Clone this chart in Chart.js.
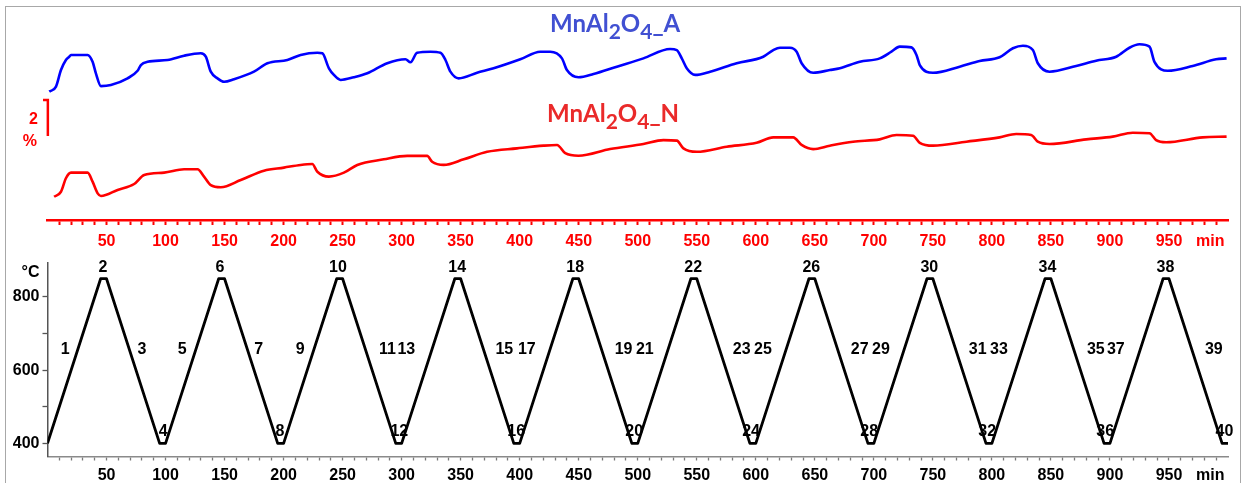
<!DOCTYPE html>
<html>
<head>
<meta charset="utf-8">
<script src="https://cdn.jsdelivr.net/npm/chart.js@4"></script>
<style>
  html, body { margin: 0; padding: 0; background: #fff; overflow: hidden; }
  #frame { position: absolute; left: 5px; top: 6px; width: 1234px; height: 540px; border: 1px solid #a8a8a8; }
  canvas { position: absolute; left: 0; }
  #tg { top: 0; }
  #temp { top: 250px; }
</style>
</head>
<body>
<div id="frame"></div>
<canvas id="tg" width="1243" height="258"></canvas>
<canvas id="temp" width="1243" height="233"></canvas>
<script>
// TG curves (time in min, mass change in % with arbitrary offset)
const blueTime = [1.5, 7.2, 11.4, 15.6, 18.4, 19.9, 34.0, 38.2, 41.0, 45.3, 53.7, 67.8, 76.3, 79.1, 84.8, 101.7, 115.7, 129.8, 134.1, 138.3, 144.0, 149.6, 158.0, 174.9, 186.3, 203.2, 214.4, 228.6, 232.8, 238.4, 242.6, 248.3, 259.5, 270.9, 287.8, 303.2, 307.5, 313.1, 324.4, 332.9, 337.1, 341.3, 348.3, 363.9, 377.9, 400.5, 417.4, 425.9, 435.8, 440.0, 449.8, 462.5, 482.3, 504.8, 527.4, 533.1, 537.3, 541.5, 548.6, 561.3, 583.8, 606.3, 614.8, 620.5, 628.9, 634.6, 638.8, 648.6, 662.7, 671.2, 688.1, 705.0, 714.9, 721.9, 731.8, 736.1, 738.9, 750.1, 772.7, 789.6, 806.5, 817.8, 826.3, 834.7, 838.9, 848.8, 871.4, 888.3, 905.3, 916.5, 925.0, 933.5, 937.7, 948.9, 970.1, 989.9, 998.8];
const blueMass = [7.13, 7.41, 8.33, 8.89, 9.07, 9.17, 9.17, 8.79, 8.15, 7.44, 7.50, 7.87, 8.29, 8.61, 8.79, 8.89, 9.13, 9.26, 9.07, 8.24, 7.87, 7.68, 7.82, 8.24, 8.71, 8.89, 9.17, 9.29, 9.26, 8.43, 8.06, 7.78, 7.93, 8.15, 8.71, 8.93, 8.76, 9.29, 9.35, 9.29, 8.89, 8.24, 7.87, 8.18, 8.43, 8.93, 9.35, 9.35, 8.98, 8.33, 7.93, 8.11, 8.52, 8.98, 9.50, 9.44, 8.98, 8.43, 8.06, 8.24, 8.71, 9.07, 9.44, 9.57, 9.57, 9.35, 8.71, 8.18, 8.33, 8.43, 8.79, 8.98, 9.35, 9.63, 9.59, 9.17, 8.61, 8.18, 8.52, 8.83, 9.04, 9.54, 9.68, 9.44, 8.71, 8.24, 8.56, 8.85, 9.07, 9.57, 9.76, 9.63, 8.79, 8.29, 8.56, 8.93, 8.98];

const redTime = [5.6, 11.4, 15.6, 19.9, 34.0, 38.2, 42.5, 45.3, 59.4, 73.4, 81.9, 98.8, 115.7, 127.1, 132.6, 138.3, 146.8, 163.7, 183.4, 200.3, 214.4, 224.3, 228.6, 238.4, 251.1, 262.4, 284.9, 304.7, 321.6, 325.8, 335.6, 352.6, 372.4, 397.7, 420.2, 431.6, 438.6, 449.8, 476.6, 504.8, 521.7, 533.1, 538.7, 550.0, 575.4, 600.7, 614.8, 631.7, 638.8, 648.6, 662.7, 682.4, 705.0, 719.2, 733.2, 738.9, 750.1, 778.4, 806.5, 820.6, 833.3, 838.9, 848.8, 879.9, 902.4, 919.3, 933.5, 939.1, 947.6, 978.5, 998.8];
const redMass = [1.29, 1.57, 2.32, 2.63, 2.63, 2.13, 1.48, 1.33, 1.67, 2.00, 2.50, 2.63, 2.82, 2.82, 2.41, 1.94, 1.82, 2.22, 2.74, 2.91, 3.06, 3.11, 2.68, 2.41, 2.63, 3.06, 3.37, 3.56, 3.56, 3.24, 3.06, 3.37, 3.79, 3.98, 4.13, 4.17, 3.71, 3.57, 3.94, 4.22, 4.44, 4.41, 3.98, 3.79, 4.07, 4.29, 4.59, 4.59, 4.17, 3.94, 4.13, 4.35, 4.48, 4.72, 4.68, 4.29, 4.13, 4.35, 4.59, 4.78, 4.72, 4.35, 4.22, 4.48, 4.63, 4.85, 4.82, 4.44, 4.32, 4.59, 4.63];

// 2 % scale bar
const scaleBarTime = [-3.8, 0.3, 0.3];
const scaleBarMass = [6.67, 6.67, 4.67];

// temperature programme
const tempTime = [0, 45, 50, 95, 100, 145, 150, 195, 200, 245, 250, 295, 300, 345, 350, 395, 400, 445, 450, 495, 500, 545, 550, 595, 600, 645, 650, 695, 700, 745, 750, 795, 800, 845, 850, 895, 900, 945, 950, 995, 1000];
const tempValue = [400, 850, 850, 400, 400, 850, 850, 400, 400, 850, 850, 400, 400, 850, 850, 400, 400, 850, 850, 400, 400, 850, 850, 400, 400, 850, 850, 400, 400, 850, 850, 400, 400, 850, 850, 400, 400, 850, 850, 400, 400];

// segment numbers 1..40 and where they sit
const stepTime = [15, 47, 80, 98, 114, 146, 179, 197, 214, 246, 288, 298, 304, 347, 387, 397, 406, 447, 488, 497, 506, 547, 588, 596, 606, 647, 688, 696, 706, 747, 788, 796, 806, 847, 888, 896, 905, 947, 988, 997];
const stepTemp = [656, 879, 656, 431, 656, 879, 656, 431, 656, 879, 656, 431, 656, 879, 656, 431, 656, 879, 656, 431, 656, 879, 656, 431, 656, 879, 656, 431, 656, 879, 656, 431, 656, 879, 656, 431, 656, 879, 656, 431];

const xLabels = [50, 100, 150, 200, 250, 300, 350, 400, 450, 500, 550, 600, 650, 700, 750, 800, 850, 900, 950];
const xUnitAt = 985;
const yLabels = [400, 600, 800];
const yTicks = [400, 500, 600, 700, 800];
const yUnitAt = 867;

const axisFont = { family: "'Liberation Sans', Arial, sans-serif", weight: 'bold', size: 16 };

const toPts = (xs, ys) => xs.map((x, i) => ({ x: x, y: ys[i] }));

const addUnitTick = (scale) => {
    scale.ticks.push({ value: xUnitAt });
    scale.ticks.sort((a, b) => a.value - b.value);
};
const xTickLabel = (v) => v === xUnitAt ? 'min' : (xLabels.includes(v) ? String(v) : '');
const xTickColor = (color) => (ctx) => {
    const v = ctx.tick ? ctx.tick.value : null;
    return (v === 0 || v === 1000 || v === xUnitAt) ? 'rgba(0,0,0,0)' : color;
};

// text on the TG panel: sample names and the 2 % label
const tgText = {
    id: 'tgText',
    afterDatasetsDraw(chart) {
        const c = chart.ctx;
        const xs = chart.scales.x, ys = chart.scales.y;
        const formula = (x, y, tail, color) => {
            const parts = [['MnAl', 0], ['2', 1], ['O', 0], ['4', 1], [tail, 0]];
            c.save();
            c.fillStyle = color;
            c.textAlign = 'left';
            c.textBaseline = 'alphabetic';
            parts.forEach(p => {
                c.font = p[1] ? "bold 21px Lato, 'Open Sans', sans-serif" : "bold 24px Lato, 'Open Sans', sans-serif";
                c.fillText(p[0], x, y + (p[1] ? 7 : 0));
                x += c.measureText(p[0]).width;
            });
            c.restore();
        };
        formula(550, 32, '_A', '#4150d2');
        formula(547, 122, '_N', '#ea2a2a');

        c.save();
        c.fillStyle = '#ff0000';
        c.font = "bold 16px 'Liberation Sans', Arial, sans-serif";
        c.textAlign = 'center';
        c.textBaseline = 'middle';
        c.fillText('2', xs.getPixelForValue(-12), ys.getPixelForValue(5.56));
        c.fillText('%', xs.getPixelForValue(-15), ys.getPixelForValue(4.37));
        c.restore();
    }
};

const stepText = {
    id: 'stepText',
    afterDatasetsDraw(chart) {
        const c = chart.ctx;
        const xs = chart.scales.x, ys = chart.scales.y;
        c.save();
        c.fillStyle = '#000';
        c.font = "bold 16px 'Liberation Sans', Arial, sans-serif";
        c.textAlign = 'center';
        c.textBaseline = 'middle';
        stepTime.forEach((t, i) => {
            c.fillText(String(i + 1), xs.getPixelForValue(t), ys.getPixelForValue(stepTemp[i]));
        });
        c.restore();
    }
};

new Chart(document.getElementById('tg'), {
    type: 'line',
    data: {
        datasets: [
            { data: toPts(blueTime, blueMass), borderColor: '#0000ff', borderWidth: 2.6, pointRadius: 0, cubicInterpolationMode: 'monotone' },
            { data: toPts(redTime, redMass), borderColor: '#ff0000', borderWidth: 2.6, pointRadius: 0, cubicInterpolationMode: 'monotone' },
            { data: toPts(scaleBarTime, scaleBarMass), borderColor: '#ff0000', borderWidth: 2.5, pointRadius: 0, clip: false }
        ]
    },
    options: {
        responsive: false,
        animation: false,
        layout: { padding: { top: 20, left: 47.5, right: 15, bottom: 0 } },
        plugins: { legend: { display: false }, tooltip: { enabled: false } },
        scales: {
            x: {
                type: 'linear', min: 0, max: 1000,
                afterBuildTicks: addUnitTick,
                afterFit: (s) => { s.height = 38; },
                grid: { drawOnChartArea: false, tickLength: 5, tickWidth: 2, tickColor: xTickColor('#ff0000') },
                border: { color: '#ff0000', width: 2.5 },
                ticks: { stepSize: 10, autoSkip: false, maxRotation: 0, color: '#ff0000', font: axisFont, padding: 7, callback: xTickLabel }
            },
            y: { display: false, min: 0, max: 200 / 18 }
        }
    },
    plugins: [tgText]
});

new Chart(document.getElementById('temp'), {
    type: 'line',
    data: {
        datasets: [
            { data: toPts(tempTime, tempValue), borderColor: '#000', borderWidth: 2.8, pointRadius: 0, borderJoinStyle: 'round', tension: 0 }
        ]
    },
    options: {
        responsive: false,
        animation: false,
        layout: { padding: { top: 10, left: 0, right: 15, bottom: 0 } },
        plugins: { legend: { display: false }, tooltip: { enabled: false } },
        scales: {
            x: {
                type: 'linear', min: 0, max: 1000,
                afterBuildTicks: addUnitTick,
                afterFit: (s) => { s.height = 26.5; },
                grid: { drawOnChartArea: false, tickLength: 4, tickWidth: 1.3, tickColor: xTickColor('#7a7a7a') },
                border: { color: '#8a8a8a', width: 1.5 },
                ticks: { stepSize: 10, autoSkip: false, maxRotation: 0, color: '#000', font: axisFont, padding: 5, callback: xTickLabel }
            },
            y: {
                min: 364, max: 894,
                afterBuildTicks: (s) => { s.ticks = yTicks.concat([yUnitAt]).map(v => ({ value: v })); },
                afterFit: (s) => { s.width = 47.5; },
                grid: { drawOnChartArea: false, tickLength: 5, tickWidth: 1.3, tickColor: (ctx) => (ctx.tick && ctx.tick.value === yUnitAt) ? 'rgba(0,0,0,0)' : '#555' },
                border: { color: '#555', width: 1.5 },
                ticks: { color: '#000', font: axisFont, padding: 3, callback: (v) => v === yUnitAt ? '°C' : (yLabels.includes(v) ? String(v) : '') }
            }
        }
    },
    plugins: [stepText]
});
</script>
</body>
</html>
